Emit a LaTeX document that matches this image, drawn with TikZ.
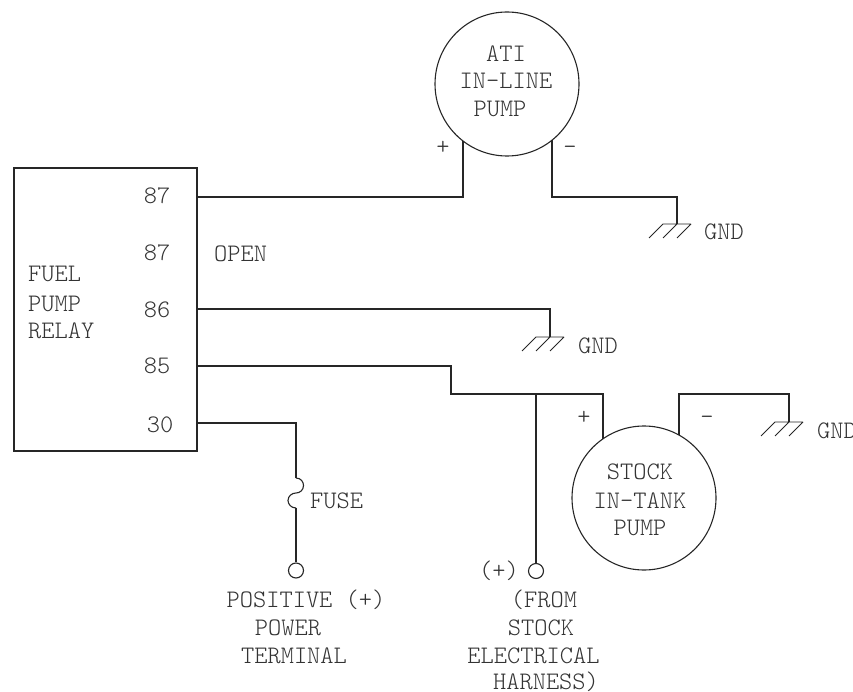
\documentclass[tikz,border=0pt]{standalone}
\usetikzlibrary{calc}
\tikzset{
  wire/.style={draw=black!85,line width=1.1pt,line join=miter},
  pump/.style={circle,draw=black!85,line width=1.1pt,inner sep=0pt,fill=none},
  term/.style={circle,draw=black!85,line width=1.1pt,inner sep=0pt,minimum size=15pt,fill=white},
  lab/.style={inner sep=0pt,anchor=base,text=black!80,font=\fontsize{25.2}{25.2}\ttfamily\fontseries{l}\selectfont},
  labl/.style={lab,anchor=base west},
}
\newcommand{\gnd}[1]{%
  \draw[wire,line width=.9pt] ($(#1)+(-14,0)$) -- ($(#1)+(14,0)$)
    ($(#1)+(-14,0)$) -- ++(-14,14) ($(#1)$) -- ++(-14,14) ($(#1)+(14,0)$) -- ++(-14,14);}
\begin{document}
\begin{tikzpicture}[x=1pt,y=-1pt]
\useasboundingbox (0,0) rectangle (853,692);
% relay and pumps
\node[wire,draw,minimum width=183pt,minimum height=283pt,inner sep=0pt] (relay) at (105.5,309.5) {};
\node[pump,minimum size=144pt] (ati) at (507,84) {};
\node[pump,minimum size=144pt] (stock) at (644,498) {};
\node[term] (tfuse) at (296,570.5) {};
\node[term] (tharn) at (536,571) {};
% connection points
\coordinate (p87) at (197,197);
\coordinate (p86) at (197,309);
\coordinate (p85) at (197,366);
\coordinate (p30) at (197,423);
\coordinate (atiplus) at (463,141);
\coordinate (atiminus) at (552,140);
\coordinate (g1) at (677,224);
\coordinate (g2) at (550,337);
\coordinate (g3) at (789,422);
\coordinate (stplus) at (603,439);
\coordinate (stminus) at (679,435);
\coordinate (junc) at (536,394);
\coordinate (fa) at (296,478);
\coordinate (fb) at (296,508);
% wires
\draw[wire] (p87) -| (atiplus);
\draw[wire] (atiminus) |- (p87 -| g1) -- (g1);
\draw[wire] (p86) -| (g2);
\draw[wire] (p85) -- (451,366) -- (451,394) -- (603,394) -- (stplus);
\draw[wire] (stminus) -- (679,394) -| (g3);
\draw[wire] (junc) -- (tharn);
\draw[wire] (p30) -| (fa);
\draw[wire] (fa) .. controls (301,478) and (303.5,482) .. (303.5,485.5)
  .. controls (303.5,490) and (300,493) .. (296,493)
  .. controls (292,493) and (288,496) .. (288,500.5)
  .. controls (288,504) and (291,508) .. (fb);
\draw[wire] (fb) -- (tfuse);
\gnd{g1}\gnd{g2}\gnd{g3}
% labels
\node[lab] (t1) at (157,204) {87};
\node[lab] (t2) at (157,261) {87};
\node[lab] (t3) at (157,317) {86};
\node[lab] (t4) at (157,373) {85};
\node[lab] (t5) at (160,432) {30};
\node[labl] (t6) at (214,262) {OPEN};
\node[labl] (t7) at (28,282) {FUEL};
\node[labl] (t8) at (28,311) {PUMP};
\node[labl] (t9) at (28,338) {RELAY};
\node[lab] (a1) at (506,62) {ATI};
\node[lab] (a2) at (506,89) {IN-LINE};
\node[lab] (a3) at (500,117) {PUMP};
\node[lab] (a4) at (443,155) {+};
\node[lab] (a5) at (570,155) {-};
\node[labl] (g1t) at (704,240) {GND};
\node[labl] (g2t) at (578,353) {GND};
\node[labl] (g3t) at (817,438) {GND};
\node[lab] (s1) at (584,424) {+};
\node[lab] (s2) at (707,424) {-};
\node[lab] (s3) at (640,479) {STOCK};
\node[lab] (s4) at (640,508) {IN-TANK};
\node[lab] (s5) at (640,535) {PUMP};
\node[labl] (f1) at (310,508) {FUSE};
\node[lab] (h0) at (499,578) {(+)};
\node[lab] (k1) at (306,607) {POSITIVE (+)};
\node[lab] (k2) at (288,635) {POWER};
\node[lab] (k3) at (294,663) {TERMINAL};
\node[lab] (h1) at (544,607) {(FROM};
\node[lab] (h2) at (541,635) {STOCK};
\node[lab] (h3) at (533.5,663) {ELECTRICAL};
\node[lab] (h4) at (546,689) {HARNESS)};
\end{tikzpicture}
\end{document}
